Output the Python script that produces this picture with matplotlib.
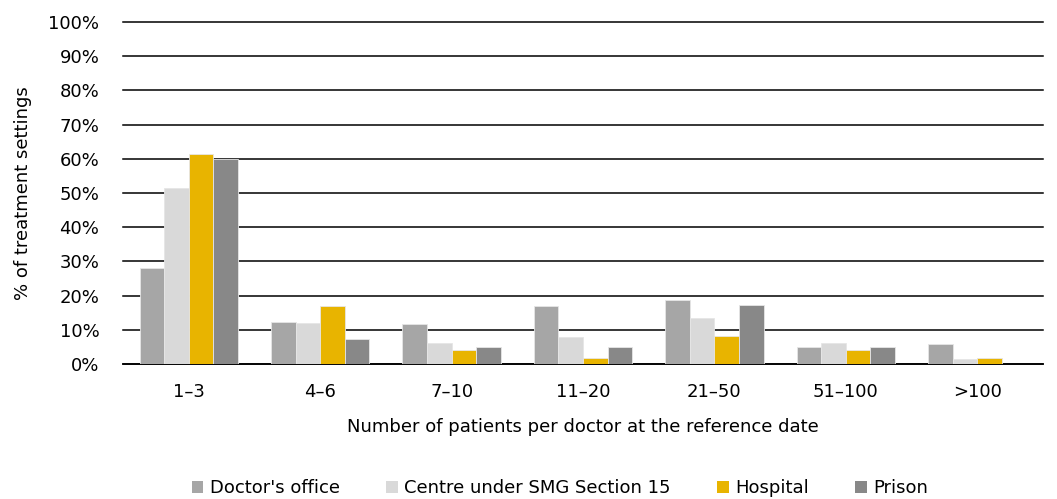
import matplotlib.pyplot as plt
import numpy as np
from matplotlib.patches import Patch

categories = ["1–3", "4–6", "7–10", "11–20", "21–50", "51–100", ">100"]
series_names = ["Doctor's office", "Centre under SMG Section 15", "Hospital", "Prison"]
doctors_office = [28.1, 12.2, 11.7, 17.0, 18.8, 5.1, 5.8]
centre_smg15 = [51.4, 12.1, 6.1, 7.9, 13.4, 6.1, 1.5]
hospital = [61.4, 17.0, 4.1, 1.9, 8.3, 4.1, 1.9]
prison = [59.9, 7.3, 4.9, 4.9, 17.3, 4.9, 0.0]
colors = ["#a6a6a6", "#d9d9d9", "#e8b400", "#888888"]

plt.rcParams["font.family"] = ["DejaVu Sans"]
fs = 13

fig = plt.figure(figsize=(10.57, 4.99), dpi=100)
ax = fig.add_axes([123 / 1057, 135 / 499, 920 / 1057, 342 / 499])

x = np.arange(len(categories))
width = 0.187
all_series = [doctors_office, centre_smg15, hospital, prison]
for i, (vals, col) in enumerate(zip(all_series, colors)):
    ax.bar(x + (i - 1.5) * width, vals, width, color=col, zorder=3,
           edgecolor="#e6e6e6", linewidth=0.6)

ax.set_xlim(-0.5, len(categories) - 0.5)
ax.set_ylim(0, 100)
ax.set_yticks(np.arange(0, 101, 10))
ax.set_yticklabels([f"{v}%" for v in range(0, 101, 10)], fontsize=fs)
ax.set_xticks(x)
ax.set_xticklabels(categories, fontsize=fs)
ax.tick_params(axis="both", length=0)
ax.tick_params(axis="y", pad=17)
ax.tick_params(axis="x", pad=14)
ax.yaxis.grid(True, color="black", linewidth=1.1, zorder=0)
for gl in ax.get_ygridlines():
    gl.set_clip_on(False)
ax.set_axisbelow(True)
for s in ["top", "right", "left"]:
    ax.spines[s].set_visible(False)
ax.spines["bottom"].set_color("black")
ax.spines["bottom"].set_linewidth(1.2)

ax.set_ylabel("% of treatment settings", fontsize=fs, labelpad=12)
ax.set_xlabel("Number of patients per doctor at the reference date", fontsize=fs, labelpad=12)

handles = [Patch(facecolor=c, edgecolor="none") for c in colors]
fig.legend(handles, series_names, loc="center", bbox_to_anchor=(560 / 1057, 11 / 499),
           ncol=4, frameon=False, fontsize=fs, handlelength=0.65, handleheight=0.65,
           handletextpad=0.35, columnspacing=2.57)

fig.savefig("out.png", dpi=100)
